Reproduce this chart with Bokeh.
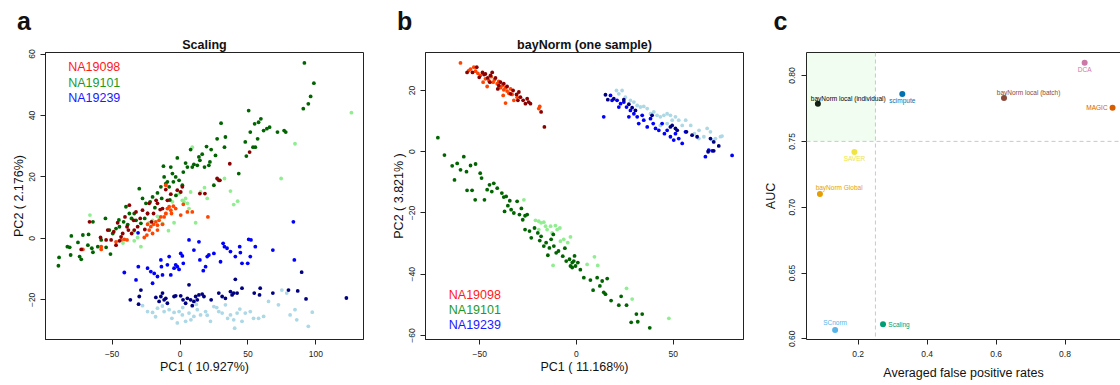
from bokeh.plotting import figure
from bokeh.models import Range1d, FixedTicker, Label, BoxAnnotation, Span, LinearAxis, Title, PrintfTickFormatter
from bokeh.layouts import row
from bokeh.embed import file_html
from bokeh.resources import INLINE

FONT = "Liberation Sans"

# ---------------- data: panel a (Scaling) ----------------
a_na19098_r1 = [(-66.6,5.4),(-72.7,-3.6),(-58.5,0.3),(-54.4,-0.5),(-53.2,2.7),(-48.8,2.2),(-45.9,5.1),(-44.6,-0.8),
                (-42.2,1.6),(-40.5,7.0),(-39.0,3.8),(-38.0,2.7),(-37.3,10.8),(-35.6,1.6),(-34.1,5.9),(-33.7,2.7),
                (-32.4,8.6),(-31.2,3.8),(-29.3,6.5),(-27.6,9.2),(-25.9,2.9),(-23.9,8.1),(-22.7,11.4),(-21.0,5.4),
                (-19.5,8.1),(-17.6,12.4),(-16.6,11.4),(-14.6,9.4),(-12.9,9.7),(-10.5,15.9),(-9.3,12.4),(-6.8,14.4),
                (-2.0,15.7),(0.5,15.1),(1.7,16.8),(14.6,14.6),(18.3,14.6),(27.3,19.5),(29.3,18.9),(36.6,24.3),
                (51.2,28.1),(-50.7,-0.5),(-47.1,-2.2),(-43.4,0.5)]
a_na19098_r3 = [(-71.5,-3.6),(-58.0,-3.6),(-47.1,-1.1),(-43.4,-0.5),(-41.0,-0.3),(-39.0,-0.5),(-26.3,0.3),(-24.4,1.1),
                (-22.7,2.7),(-21.5,3.8),(-19.5,4.6),(-17.8,5.4),(-16.6,2.7),(-15.4,5.9),(-14.1,7.0),(-11.7,7.0),
                (-10.5,8.1),(-9.3,9.7),(-8.0,10.3),(-6.8,9.2),(-4.9,10.5),(-3.2,9.7),(0.5,7.6),(2.4,11.1),(5.4,8.6),
                (9.0,8.6),(20.5,7.0),(-10.5,17.3),(-23.9,4.6),(-20.2,1.6),(-12.9,4.6),(-6.3,8.1),(-16.6,4.3),(-58.0,-2.7)]
a_na19101_r1 = [(-89.5,-8.9),(-89.0,-6.2),(-82.9,-2.7),(-81.2,-2.9),(-80.0,0.8),(-80.5,-5.4),(-75.1,-1.3),(-73.9,-5.9),
                (-72.7,-6.8),(-71.5,1.1),(-67.3,1.3),(-67.8,-2.2),(-64.1,5.4),(-64.9,-3.2),(-64.1,-4.5),(-60.5,-2.7),
                (-58.0,-0.5),(-54.9,6.5),(-54.4,-2.9),(-51.2,-5.1),(-52.0,2.7),(-49.5,1.6),(-47.1,3.2),(-44.6,3.8),
                (-41.5,5.4),(-39.8,10.3),(-37.3,8.1),(-35.6,6.5),(-33.7,8.1),(-32.4,5.9),(-30.0,16.2),(-28.8,4.9),
                (-27.6,13.0),(-25.1,11.4),(-23.9,8.1),(-22.0,11.9),(-20.2,13.5),(-16.6,14.8),(-14.1,16.8),(-12.2,23.5),
                (-11.7,20.0),(-10.5,17.8),(-9.3,18.4),(-8.0,16.8),(-6.8,23.2),(-5.6,21.1),(-4.9,18.4),(-3.2,20.0),
                (-2.0,26.2),(-0.7,18.9),(1.7,17.3),(2.4,21.6),(4.1,24.5),(5.4,23.2),(7.8,28.9),(9.0,23.2),(10.2,24.1),
                (12.7,23.8),(13.9,26.5),(14.6,25.4),(16.3,27.4),(18.0,23.2),(19.5,29.9),(21.2,23.8),(22.0,24.9),
                (22.9,28.9),(24.9,17.3),(26.1,27.0),(27.3,32.4),(28.5,18.9),(30.2,37.5),(32.7,29.7),(33.4,33.0),
                (43.2,21.1),(48.0,31.4),(48.8,26.8),(50.5,41.6),(51.7,34.6),(53.7,29.7),(54.9,37.3),(55.4,29.7),
                (57.1,32.4),(57.8,37.8),(59.5,38.9),(61.5,35.1),(63.9,35.7),(65.9,36.2),(71.7,34.6),(76.6,35.1),
                (77.8,34.6),(90.7,42.2),(91.5,57.1),(94.4,43.8),(96.1,46.2),(98.5,50.5),(-45.0,6.0),(-38.5,4.5),
                (-26.0,6.5),(-18.5,10.0),(-13.5,13.0),(-7.5,12.5),(-3.0,14.0)]
a_na19101_r3 = [(-66.3,7.6),(-36.1,6.5),(-34.1,2.2),(-28.8,-2.7),(-31.2,0.3),(-20.2,5.9),(-15.4,6.8),(-12.9,4.9),
                (-10.0,8.1),(-5.6,11.9),(-0.7,14.6),(1.7,12.4),(2.9,11.9),(4.1,13.0),(5.4,11.4),(6.6,9.7),(7.8,15.1),
                (9.0,29.7),(11.5,5.1),(15.1,15.1),(18.0,16.5),(20.0,13.0),(29.3,18.9),(32.7,19.5),(37.1,15.4),
                (39.5,11.0),(42.4,12.1),(74.4,19.5),(84.6,30.8),(126.1,40.9),(-4.4,5.1),(-16.6,7.2),(-22.7,5.1),
                (-33.7,-0.8),(-42.0,-1.5),(-8.5,2.5)]
a_na19239_r1 = [(-41.0,-11.1),(-30.7,-9.2),(-32.4,-13.5),(-23.9,-9.7),(-21.5,-10.8),(-20.2,-14.6),(-19.0,-11.4),
                (-16.6,-12.4),(-14.1,-7.0),(-13.7,-9.2),(-12.9,-11.9),(-9.3,-8.6),(-8.0,-5.9),(-6.8,-11.9),(-4.4,-9.7),
                (-3.2,-8.6),(-2.0,-9.2),(-0.7,-10.1),(0.5,-4.9),(1.7,-5.7),(2.4,-8.1),(6.6,-0.5),(10.2,-3.8),(13.9,-1.1),
                (14.6,-7.0),(17.1,-10.5),(18.8,-9.2),(20.0,-5.9),(21.2,-5.4),(24.9,-4.9),(29.8,-7.6),(31.7,-1.6),
                (32.7,-2.7),(34.6,-3.2),(37.1,-4.3),(40.7,-5.9),(43.9,-2.7),(45.6,-8.1),(50.5,-0.3),(49.8,-8.1),
                (52.2,-0.5),(55.4,-2.7),(68.3,-3.8),(51.7,-5.9),(83.4,5.4),(84.1,-7.0),(44.4,-4.6),(-30.9,1.8)]
a_na19239_r2 = [(-36.6,-20.0),(-30.0,-18.9),(-30.5,-21.4),(-28.8,-16.8),(-17.8,-19.2),(-15.4,-20.5),(-14.1,-18.9),
                (-12.9,-17.8),(-11.7,-20.0),(-10.5,-19.5),(-9.3,-21.1),(-4.4,-18.9),(-3.2,-18.7),(0.5,-18.7),(2.2,-20.0),
                (4.1,-21.1),(5.4,-19.5),(6.6,-15.1),(7.8,-20.0),(9.0,-21.9),(10.2,-20.5),(11.5,-18.9),(12.7,-20.0),
                (13.9,-18.4),(16.3,-18.1),(17.6,-18.9),(22.9,-20.0),(28.5,-17.8),(31.0,-18.9),(33.4,-19.5),(37.1,-17.3),
                (38.3,-18.4),(39.5,-17.8),(40.7,-13.3),(42.0,-17.8),(45.6,-16.2),(54.6,-17.8),(58.5,-18.4),(59.0,-16.2),
                (68.3,-17.8),(79.8,-16.8),(86.6,-17.1),(92.7,-19.7),(122.4,-19.4),(89.5,-11.0)]
a_na19239_r3 = [(-27.6,-21.9),(-23.9,-23.8),(-20.2,-24.1),(-16.6,-22.7),(-11.7,-23.8),(-8.0,-23.2),(-4.4,-24.1),
                (-0.7,-23.8),(1.7,-24.9),(4.1,-27.0),(6.6,-24.3),(10.2,-25.4),(12.7,-23.2),(15.1,-24.9),(18.8,-23.8),
                (22.4,-27.0),(24.9,-22.2),(28.5,-23.8),(31.0,-24.3),(33.4,-21.6),(37.1,-24.9),(39.5,-26.5),(42.0,-24.3),
                (45.6,-27.0),(48.0,-24.3),(51.7,-23.8),(54.1,-26.0),(57.8,-26.0),(61.5,-25.4),(65.1,-20.5),(72.4,-21.6),
                (74.9,-16.8),(78.5,-17.8),(81.0,-24.9),(84.6,-23.2),(85.9,-26.5),(94.4,-28.6),(97.3,-24.0),(40.2,-29.2),
                (-18.0,-25.5),(-13.0,-22.0),(-6.0,-26.0),(2.0,-22.5),(8.0,-26.5),(-2.0,-27.5),(12.0,-21.5),(20.0,-25.0),
                (27.0,-22.5),(35.0,-26.0),(44.0,-23.0)]

# ---------------- data: panel b (bayNorm, one sample) ----------------
b_na19098_r3 = [(-60.0,29.0),(-55.7,26.5),(-54.8,27.0),(-53.1,27.6),(-52.2,26.3),(-47.1,23.8),(-46.2,21.3),(-45.3,23.2),
                (-44.1,24.5),(-43.1,22.7),(-42.4,23.5),(-41.0,22.2),(-40.2,23.0),(-39.3,20.9),(-38.4,21.6),(-37.6,20.2),
                (-36.7,20.9),(-35.9,19.8),(-35.0,19.1),(-34.1,20.5),(-33.3,18.7),(-32.4,16.8),(-36.7,15.9),(-30.7,17.8),
                (-19.0,14.8),(-19.5,14.1),(-49.7,24.9),(-48.3,22.7),(-51.0,25.6),(-37.9,18.4)]
b_na19098_r1 = [(-56.6,25.9),(-53.8,25.9),(-51.6,27.6),(-50.3,24.3),(-48.6,25.9),(-47.8,25.2),(-47.1,25.4),(-45.9,24.1),
                (-44.8,22.7),(-43.6,25.9),(-41.9,24.1),(-40.7,20.5),(-39.3,22.7),(-37.6,22.2),(-35.9,21.3),(-34.1,18.9),
                (-32.8,20.0),(-31.0,18.7),(-29.8,19.5),(-29.0,17.8),(-27.6,16.8),(-26.4,15.7),(-25.5,17.3),(-24.7,16.2),
                (-23.8,15.7),(-18.3,13.0),(-16.6,8.1),(-44.5,24.9),(-40.2,21.6),(-30.3,16.8)]
b_na19101_r1 = [(-71.7,4.6),(-68.3,-1.1),(-64.3,-4.6),(-63.1,-9.2),(-61.7,-3.8),(-60.0,-5.9),(-58.3,-1.6),(-56.9,-6.5),
                (-56.6,-12.6),(-54.8,-4.5),(-54.0,-12.6),(-52.2,-4.0),(-52.4,-15.7),(-49.8,-7.0),(-49.1,-8.6),(-47.6,-15.7),
                (-46.2,-12.4),(-45.0,-10.8),(-43.8,-13.0),(-42.8,-10.3),(-41.0,-11.9),(-38.6,-13.5),(-37.6,-14.8),
                (-36.4,-14.6),(-37.2,-19.5),(-35.5,-17.6),(-33.8,-18.9),(-32.4,-20.0),(-30.7,-16.2),(-29.5,-20.5),
                (-27.8,-22.2),(-26.6,-20.9),(-25.5,-20.5),(-26.6,-25.4),(-24.3,-25.9),(-23.4,-28.1),(-21.7,-24.9),
                (-20.0,-26.5),(-18.3,-27.6),(-16.9,-30.8),(-15.7,-29.7),(-14.0,-31.4),(-14.8,-33.8),(-13.1,-28.6),
                (-11.7,-30.8),(-10.5,-33.0),(-9.3,-32.4),(-7.1,-34.1),(-5.3,-35.7),(-3.6,-35.1),(-3.1,-37.3),(-2.2,-37.8),
                (-1.4,-35.7),(-0.5,-37.3),(0.7,-36.2),(-2.2,-36.2),(3.8,-41.1),(7.2,-41.9),(8.6,-45.2),(10.7,-41.1),
                (12.1,-43.8),(13.3,-42.2),(14.1,-45.9),(15.9,-41.4),(15.0,-46.5),(17.9,-48.6),(21.9,-50.1),(23.1,-47.2),
                (25.9,-50.1),(28.3,-55.7),(31.0,-53.0),(31.7,-55.5),(34.0,-53.0),(37.9,-57.5),(-34.5,-16.0),
                (-28.5,-18.5),(-19.0,-29.0),(-12.0,-27.0),(-6.0,-31.5),(-1.0,-34.0),(2.0,-38.5)]
b_na19101_r3 = [(-27.2,-15.7),(-21.2,-22.4),(-19.5,-22.7),(-18.3,-23.2),(-16.9,-23.0),(-16.0,-24.3),(-15.2,-25.4),
                (-13.4,-24.3),(-10.9,-24.1),(-10.0,-25.4),(-8.6,-24.9),(-8.3,-29.2),(-6.6,-28.6),(-4.5,-29.7),(-3.1,-27.8),
                (-12.1,-37.1),(5.5,-36.8),(9.3,-34.3),(11.0,-37.1),(25.9,-44.6),(28.8,-48.1),(47.8,-54.4),(-19.5,-25.4),
                (-12.6,-26.5)]
b_na19239_r3 = [(20.7,20.0),(21.9,18.9),(23.6,20.0),(25.3,17.8),(27.9,16.8),(29.7,16.2),(31.4,15.1),(33.1,14.6),
                (34.8,14.8),(36.6,14.1),(38.3,12.4),(40.0,13.0),(41.7,11.9),(43.4,11.4),(45.2,11.9),(46.9,12.4),
                (48.6,11.9),(49.5,10.3),(51.2,11.4),(52.9,10.3),(54.7,8.6),(56.5,10.3),(59.1,8.6),(61.0,5.9),(63.4,7.0),
                (65.9,4.9),(67.6,7.6),(69.3,6.5),(71.9,4.3),(74.5,4.9),(75.3,5.1),(70.2,3.8),(63.3,4.3),(46.9,9.2),
                (43.4,8.6)]
b_na19239_r1 = [(14.1,11.4),(17.6,18.4),(18.4,16.8),(21.0,16.8),(21.9,14.6),(22.8,15.7),(24.5,16.2),(25.9,14.6),
                (27.1,11.4),(27.9,13.5),(29.7,12.4),(31.4,11.4),(32.2,9.2),(34.0,11.9),(34.8,10.3),(36.6,8.1),(38.3,10.8),
                (39.7,9.2),(40.9,7.6),(42.6,7.0),(44.3,9.2),(45.5,5.9),(46.9,7.0),(48.6,4.9),(50.3,3.8),(51.2,5.9),
                (52.9,4.3),(54.7,2.7),(56.4,6.5),(66.7,-1.6),(68.4,0.5),(70.2,0.3),(80.5,-1.2)]
b_na19239_r2 = [(15.0,18.6),(16.2,17.0),(19.3,17.3),(24.5,17.0),(27.1,15.5),(28.8,14.4),(30.5,13.5),(39.1,11.9),
                (48.6,8.1),(49.5,8.6),(51.2,7.6),(52.1,7.0),(56.9,6.5),(59.8,5.4),(62.4,4.9),(69.3,4.3),(71.0,3.2),
                (73.6,1.9),(71.0,0.3),(68.1,0.0)]

# ---------------- data: panel c ----------------
c_methods = ["bayNorm local (individual)", "scimpute", "bayNorm local (batch)", "DCA", "MAGIC",
             "SAVER", "bayNorm Global", "SCnorm", "Scaling"]
c_fpr = [0.083, 0.328, 0.623, 0.857, 0.938, 0.189, 0.089, 0.133, 0.272]
c_auc = [0.7785, 0.786, 0.783, 0.8097, 0.7755, 0.7419, 0.7101, 0.6068, 0.611]

cell_lines = ["NA19098", "NA19101", "NA19239"]

# ---------------- styles ----------------
group_colors = {"98r1": "#8B0000", "98r3": "#FF4500", "01r1": "#006400", "01r3": "#90EE90",
                "39r1": "#0000FF", "39r2": "#000080", "39r3": "#ADD8E6"}
legend_colors = ["#FF1A1A", "#1F9A1F", "#1A1AFF"]
c_colors = ["#000000", "#0072B2", "#8B4A39", "#CC79A7", "#D55E00", "#F0E442", "#E69F00", "#56B4E9", "#009E73"]
# label placement (align, dx, dy in px)
c_lab = [("left", -7, 5.6), ("center", 0, -6.7), ("center", 24.6, 5.6), ("center", 0, -6.4),
         ("right", -5, 0), ("center", 0, -6), ("left", -4.3, 6.6), ("center", 0, 7.6), ("left", 5.3, 0)]

H = 385
TOP, BOT = 52, 46


def style_axes(p, xticks, yticks, xlabel, ylabel, ylab_std=1, xlab_std=0, ytick_std=5, xtick_std=6):
    p.xaxis.ticker = FixedTicker(ticks=xticks)
    p.yaxis.ticker = FixedTicker(ticks=yticks)
    p.xaxis.axis_label = xlabel
    p.yaxis.axis_label = ylabel
    for ax in p.xaxis + p.yaxis:
        ax.minor_tick_line_color = None
        ax.major_tick_out = 5
        ax.major_tick_in = 0
        ax.axis_line_color = "#222222"
        ax.major_tick_line_color = "#222222"
        ax.major_label_text_font = FONT
        ax.major_label_text_font_size = "8.5px"
        ax.major_label_text_color = "#222222"
        ax.axis_label_text_font = FONT
        ax.axis_label_text_font_size = "12.5px"
        ax.axis_label_text_font_style = "normal"
        ax.axis_label_text_color = "#111111"
    p.yaxis.major_label_orientation = "vertical"
    p.yaxis.major_label_standoff = ytick_std
    p.xaxis.major_label_standoff = xtick_std
    p.yaxis.axis_label_standoff = ylab_std
    p.xaxis.axis_label_standoff = xlab_std
    p.xgrid.visible = False
    p.ygrid.visible = False


def base_fig(width, left, right, xr, yr):
    p = figure(width=width, height=H, x_range=Range1d(*xr), y_range=Range1d(*yr),
               output_backend="svg", toolbar_location=None,
               min_border_left=left, min_border_right=right, min_border_top=TOP, min_border_bottom=BOT)
    p.outline_line_color = "#222222"
    p.outline_line_width = 1
    p.background_fill_color = "white"
    p.border_fill_color = "white"
    return p


def add_titles(p, title, letter, letter_offset):
    t1 = Title(text=title, align="center", text_font=FONT, text_font_size="12.5px",
               text_font_style="bold", text_color="#111111", standoff=2)
    p.add_layout(t1, "above")
    t2 = Title(text=letter, align="left", offset=letter_offset, text_font=FONT, text_font_size="25px",
               text_font_style="bold", text_color="#111111", standoff=0)
    p.add_layout(t2, "above")


def add_text(p, x, y, text, size, color="black"):
    p.add_layout(Label(x=x, y=y, x_units="screen", y_units="screen", text=text,
                       text_font=FONT, text_font_size=size, text_color=color,
                       text_align="left", text_baseline="middle"))


def scatter_groups(p, groups):
    for pts, key in groups:
        p.scatter([q[0] for q in pts], [q[1] for q in pts], size=3.8, fill_color=group_colors[key],
                  line_color=None)


# ---------- panel a ----------
pa = base_fig(385, 45, 22, (-99, 135), (-32.9, 60.5))
style_axes(pa, [-50, 0, 50, 100], [-20, 0, 20, 40, 60], "PC1 ( 10.927%)", "PC2 ( 2.176%)")
scatter_groups(pa, [(a_na19239_r3, "39r3"), (a_na19239_r2, "39r2"), (a_na19239_r1, "39r1"),
                    (a_na19101_r3, "01r3"), (a_na19101_r1, "01r1"),
                    (a_na19098_r3, "98r3"), (a_na19098_r1, "98r1")])
add_titles(pa, "Scaling", "a", -28.5)
for i, (name, col) in enumerate(zip(cell_lines, legend_colors)):
    add_text(pa, 22.7, 339 - 66.7 - 15.5 * i, name, "12.5px", color=col)

# ---------- panel b ----------
pb = base_fig(373, 40, 15, (-78.1, 86.4), (-61.3, 32.4))
style_axes(pb, [-50, 0, 50], [-60, -40, -20, 0, 20], "PC1 ( 11.168%)", "PC2 ( 3.821% )")
scatter_groups(pb, [(b_na19239_r3, "39r3"), (b_na19239_r1, "39r1"), (b_na19239_r2, "39r2"),
                    (b_na19101_r3, "01r3"), (b_na19101_r1, "01r1"),
                    (b_na19098_r3, "98r3"), (b_na19098_r1, "98r1")])
add_titles(pb, "bayNorm (one sample)", "b", -28.5)
for i, (name, col) in enumerate(zip(cell_lines, legend_colors)):
    add_text(pb, 23.3, 339 - 294.7 - 15 * i, name, "12.5px", color=col)

# ---------- panel c ----------
pc = base_fig(362, 48, 0, (0.05, 0.961), (0.5995, 0.8175))
pc.outline_line_color = None
style_axes(pc, [0.2, 0.4, 0.6, 0.8], [0.60, 0.65, 0.70, 0.75, 0.80], "Averaged false positive rates", "AUC",
           ylab_std=9, xlab_std=6, ytick_std=6)
pc.yaxis.formatter = PrintfTickFormatter(format="%.2f")
pc.xaxis.formatter = PrintfTickFormatter(format="%.1f")
top_axis = LinearAxis(ticker=FixedTicker(ticks=[]), major_label_text_font_size="0px",
                      major_tick_line_color=None, minor_tick_line_color=None, axis_line_color="#222222")
pc.add_layout(top_axis, "above")
add_titles(pc, " ", "c", -33)
pc.add_layout(BoxAnnotation(right=0.25, bottom=0.75, fill_color="#90EE90", fill_alpha=0.13, line_color=None))
pc.add_layout(Span(location=0.25, dimension="height", line_color="#c8c8c8", line_dash="4 3", line_width=1))
pc.add_layout(Span(location=0.75, dimension="width", line_color="#c8c8c8", line_dash="4 3", line_width=1))
pc.scatter(c_fpr, c_auc, size=6, fill_color=c_colors, line_color=None)
for m, fx, au, col, (al, dx, dy) in zip(c_methods, c_fpr, c_auc, c_colors, c_lab):
    pc.add_layout(Label(x=fx, y=au, text=m, x_offset=dx, y_offset=dy, text_align=al, text_baseline="middle",
                        text_font=FONT, text_font_size="6.5px", text_color=col))

layout = row(pa, pb, pc, spacing=0)
open("out.html", "w").write(file_html(layout, INLINE))
